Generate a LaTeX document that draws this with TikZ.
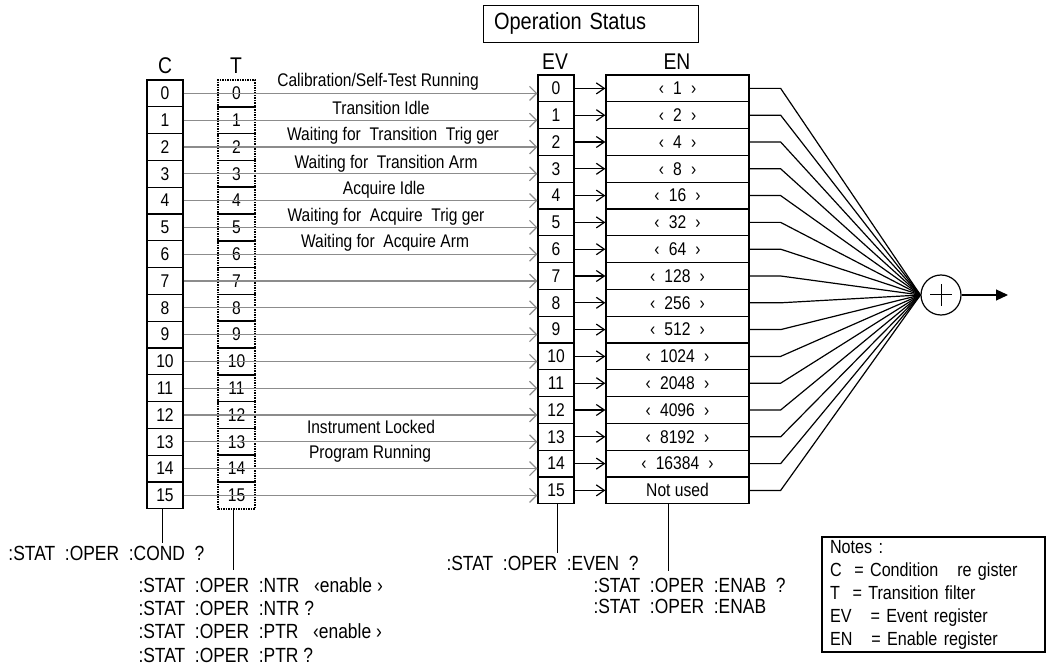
\documentclass[tikz,border=0pt]{standalone}
\usepackage{fontspec}
\setmainfont{Liberation Sans}[FakeStretch=0.85]
\usetikzlibrary{positioning,arrows.meta}

\begin{document}
\begin{tikzpicture}[x=1pt,y=-1pt,line width=1pt,font=\fontsize{18.4}{21}\selectfont,
  cell/.style={rectangle,draw,line width=1.3pt,minimum width=36pt,minimum height=26.8pt,inner sep=0pt},
  tcell/.style={rectangle,draw,line width=1.5pt,dash pattern=on 1.5pt off 1pt,minimum width=37pt,minimum height=26.8pt,inner sep=0pt},
  encell/.style={cell,minimum width=143pt},
  hdr/.style={font=\fontsize{22.7}{25}\selectfont,inner sep=0pt},
  lbl/.style={font=\fontsize{18.3}{20}\selectfont,inner sep=0pt},
  cmd/.style={font=\fontsize{20.5}{23.3}\selectfont,align=left,inner sep=2pt},
  gr/.style={-{Straight Barb[length=7pt,width=14pt]},black!45,line width=1.2pt},
  bk/.style={-{Straight Barb[length=8pt,width=11pt]},line width=1.2pt}]
\useasboundingbox (0,0) rectangle (1047,668);

% title and column heads
\node[draw,line width=0.8pt,minimum width=215pt,minimum height=37pt,inner xsep=11pt,text width=193pt,align=left,font=\fontsize{23.5}{26}\selectfont](title) at (590.5,23.5){Operation Status};
\node[hdr](hc) at (165,66){C};
\node[hdr](ht) at (236,66){T};
\node[hdr](hev) at (555,62){EV};
\node[hdr](hen) at (677,62){EN};

% summing junction
\node[circle,draw,line width=1.2pt,minimum size=40pt,inner sep=0pt](sum) at (941,295){};
\draw ([xshift=-11pt]sum.center) -- ([xshift=11pt]sum.center);
\draw ([yshift=-11pt]sum.center) -- ([yshift=11pt]sum.center);
\coordinate (out) at (1008,295);
\draw[line width=1.2pt,-{Triangle[length=12pt,width=11pt]}](sum) -- (out);

% registers
\foreach \i in {0,...,15}{
  \node[cell](c\i) at (165,93.4+26.8*\i){\i};
  \node[tcell](t\i) at (236.5,93.4+26.8*\i){\i};
  \node[cell](ev\i) at (556,88.4+26.8*\i){\i};
}
\foreach \i/\v in {0/1,1/2,2/4,3/8,4/16,5/32,6/64,7/128,8/256,9/512,10/1024,11/2048,12/4096,13/8192,14/16384}
  \node[encell](en\i) at (677.5,88.4+26.8*\i){‹\enspace\v\enspace›};
\node[encell](en15) at (677.5,88.4+26.8*15){Not used};

\foreach \i in {0,...,15}{
  \draw[gr](c\i.east) -- (c\i.east -| ev\i.west);
  \draw[bk](ev\i.east) -- (en\i.west);
  \draw[line width=1.2pt](en\i.east) -- ++(31,0) -- (sum.west);
}

% bit names
\node[lbl](l0) at (378,82){Calibration/Self-Test Running};
\node[lbl](l1) at (381,108){Transition Idle};
\node[lbl](l2) at (393,136){Waiting for\ \ Transition\ \ Trig ger};
\node[lbl](l3) at (386,164){Waiting for\ \ Transition Arm};
\node[lbl](l4) at (384,190){Acquire Idle};
\node[lbl](l5) at (386,217){Waiting for\ \ Acquire\ \ Trig ger};
\node[lbl](l6) at (385,243){Waiting for\ \ Acquire Arm};
\node[lbl](l13) at (371,427){Instrument Locked};
\node[lbl](l14) at (370,454){Program Running};

% commands
\node[cmd,anchor=west](condq) at (6,553){:STAT\ \ :OPER\ \ :COND\ \ ?};
\draw ([xshift=-3pt]c15.south) -- ([xshift=-3pt]c15.south |- condq.north);
\node[cmd,anchor=north west](ntrq) at (136,575){:STAT\ \ :OPER\ \ :NTR\ \ \ ‹enable\ ›\\:STAT\ \ :OPER\ \ :NTR\ ?\\:STAT\ \ :OPER\ \ :PTR\ \ \ ‹enable\ ›\\:STAT\ \ :OPER\ \ :PTR\ ?};
\coordinate (tend) at (233,570);
\draw (t15.south -| tend) -- (tend);
\node[cmd,anchor=west](evenq) at (444,563){:STAT\ \ :OPER\ \ :EVEN\ \ ?};
\draw ([xshift=1pt]ev15.south) -- ([xshift=1pt]ev15.south |- evenq.north);
\node[cmd,anchor=north west,font=\fontsize{20.5}{20.5}\selectfont](enabq) at (591,576){:STAT\ \ :OPER\ \ :ENAB\ \ ?\\:STAT\ \ :OPER\ \ :ENAB};
\coordinate (enend) at (668,571);
\draw (en15.south -| enend) -- (enend);

% legend
\node[draw,line width=2pt,anchor=north west,inner xsep=8pt,inner ysep=3pt,text width=207pt,align=left,font=\fontsize{19}{23}\selectfont](notes) at (821,536){Notes :\\C\ \ =\ Condition\ \ \ re gister\\T\ \ =\ Transition filter\\EV\ \ \ =\ Event register\\EN\ \ \ =\ Enable register};
\end{tikzpicture}
\end{document}
